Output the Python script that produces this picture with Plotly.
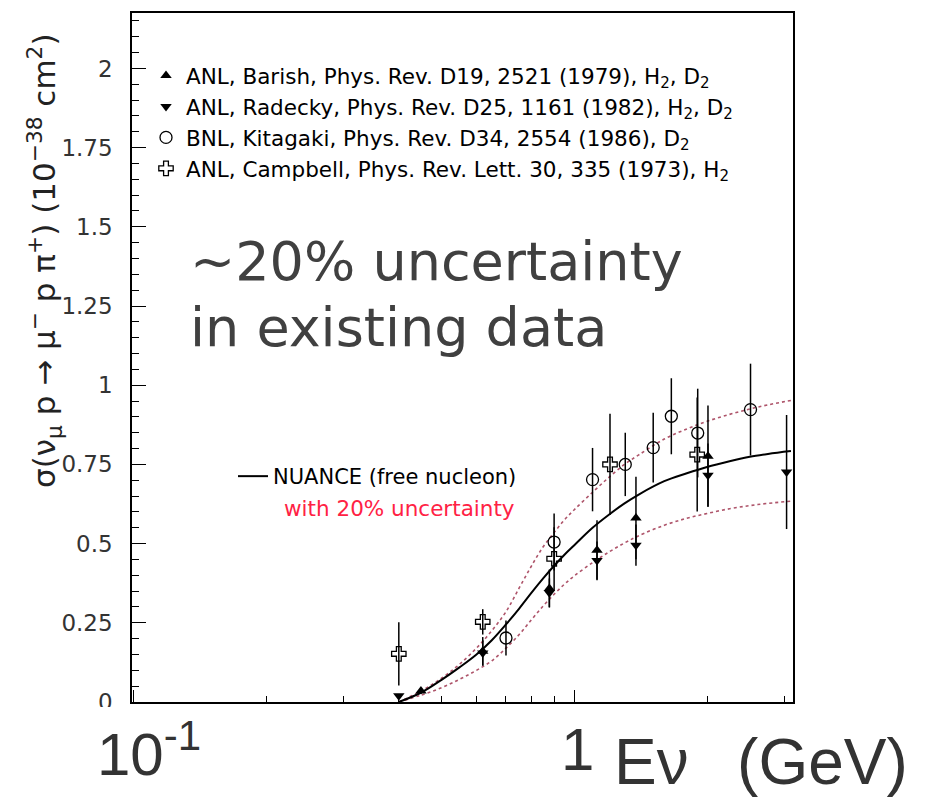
import plotly.graph_objects as go

# ---- data ----
# NUANCE (free nucleon) prediction
nuance_e = [0.40, 0.45, 0.50, 0.55, 0.60, 0.65, 0.70, 0.75, 0.80, 0.85, 0.90, 0.95, 1.0, 1.1, 1.2, 1.3, 1.4, 1.6, 1.8, 2.0, 2.25, 2.5, 2.75, 3.1]
nuance_xs = [0.0, 0.03, 0.07, 0.11, 0.15, 0.195, 0.245, 0.295, 0.345, 0.39, 0.43, 0.465, 0.495, 0.55, 0.592, 0.627, 0.655, 0.697, 0.722, 0.742, 0.76, 0.774, 0.783, 0.792]
# upper / lower curves of the 20% uncertainty band
upper_e = [0.40, 0.45, 0.50, 0.55, 0.60, 0.65, 0.70, 0.75, 0.80, 0.85, 0.90, 0.95, 1.0, 1.1, 1.2, 1.3, 1.4, 1.6, 1.8, 2.0, 2.25, 2.5, 2.75, 3.1]
upper_xs = [0.0, 0.035, 0.075, 0.12, 0.17, 0.225, 0.285, 0.36, 0.43, 0.49, 0.535, 0.575, 0.607, 0.662, 0.71, 0.75, 0.78, 0.83, 0.862, 0.886, 0.908, 0.925, 0.938, 0.952]
lower_e = [0.40, 0.45, 0.50, 0.55, 0.60, 0.65, 0.70, 0.75, 0.80, 0.85, 0.90, 0.95, 1.0, 1.1, 1.2, 1.3, 1.4, 1.6, 1.8, 2.0, 2.25, 2.5, 2.75, 3.1]
lower_xs = [0.0, 0.022, 0.045, 0.072, 0.10, 0.13, 0.17, 0.213, 0.26, 0.303, 0.34, 0.372, 0.398, 0.44, 0.474, 0.502, 0.525, 0.558, 0.58, 0.595, 0.61, 0.62, 0.627, 0.634]

# ANL, Barish (up triangles)
barish_e = [0.449, 0.62, 0.878, 1.126, 1.38, 2.01]
barish_xs = [0.035, 0.16, 0.358, 0.479, 0.581, 0.776]
barish_err = [0.01, 0.045, 0.06, 0.095, 0.13, 0.16]
# ANL, Radecky (down triangles)
radecky_e = [0.40, 0.62, 0.878, 1.126, 1.38, 2.01, 3.03]
radecky_xs = [0.02, 0.155, 0.345, 0.447, 0.495, 0.716, 0.726]
radecky_err = [0.0, 0.04, 0.045, 0.06, 0.065, 0.10, 0.18]
# BNL, Kitagaki (open circles)
kitagaki_e = [0.70, 0.90, 1.10, 1.305, 1.51, 1.66, 1.905, 2.51]
kitagaki_xs = [0.202, 0.505, 0.702, 0.75, 0.803, 0.902, 0.849, 0.923]
kitagaki_err = [0.055, 0.09, 0.10, 0.10, 0.11, 0.12, 0.14, 0.145]
# ANL, Campbell (open crosses)
campbell_e = [0.40, 0.62, 0.90, 1.205, 1.90]
campbell_xs = [0.152, 0.253, 0.452, 0.75, 0.781]
campbell_err = [0.10, 0.04, 0.10, 0.16, 0.18]

y_tickvals = [0, 0.25, 0.5, 0.75, 1, 1.25, 1.5, 1.75, 2]
y_ticktext = ["0", "0.25", "0.5", "0.75", "1", "1.25", "1.5", "1.75", "2"]

W, H = 926, 802
L, R, T, B = 132, 133, 13, 100
PW, PH = W - L - R, H - T - B

def px(xp):
    return (xp - L) / PW

def py(yp):
    return 1 - (yp - T) / PH

fig = go.Figure()

band_color = "rgba(165,65,90,0.9)"
fig.add_trace(go.Scatter(x=upper_e, y=upper_xs, mode="lines", line=dict(color=band_color, width=1.6, dash="dot", shape="spline"), showlegend=False))
fig.add_trace(go.Scatter(x=lower_e, y=lower_xs, mode="lines", line=dict(color=band_color, width=1.6, dash="dot", shape="spline"), showlegend=False))
fig.add_trace(go.Scatter(x=nuance_e, y=nuance_xs, mode="lines", line=dict(color="black", width=2, shape="spline"),
                         name="NUANCE (free nucleon)", legend="legend2"))

err_style = dict(type="data", thickness=1.5, width=0, color="black")
fig.add_trace(go.Scatter(x=barish_e, y=barish_xs, mode="markers", name="ANL, Barish, Phys. Rev. D19, 2521 (1979), H<sub>2</sub>, D<sub>2</sub>",
                         marker=dict(symbol="triangle-up", size=10, color="black"), error_y=dict(array=barish_err, **err_style)))
fig.add_trace(go.Scatter(x=radecky_e, y=radecky_xs, mode="markers", name="ANL, Radecky, Phys. Rev. D25, 1161 (1982), H<sub>2</sub>, D<sub>2</sub>",
                         marker=dict(symbol="triangle-down", size=10, color="black"), error_y=dict(array=radecky_err, **err_style)))
fig.add_trace(go.Scatter(x=kitagaki_e, y=kitagaki_xs, mode="markers", name="BNL, Kitagaki, Phys. Rev. D34, 2554 (1986), D<sub>2</sub>",
                         marker=dict(symbol="circle-open", size=12, color="black", line=dict(width=1.3)), error_y=dict(array=kitagaki_err, **err_style)))
fig.add_trace(go.Scatter(x=campbell_e, y=campbell_xs, mode="markers", name="ANL, Campbell, Phys. Rev. Lett. 30, 335 (1973), H<sub>2</sub>",
                         marker=dict(symbol="cross-open", size=12, color="black", line=dict(width=1.3)), error_y=dict(array=campbell_err, **err_style)))

fig.update_layout(
    width=W, height=H,
    margin=dict(l=L, r=R, t=T, b=B, autoexpand=False),
    paper_bgcolor="white", plot_bgcolor="white",
    font=dict(family="DejaVu Sans", color="black"),
    xaxis=dict(type="log", range=[-1.003, 0.496], showline=True, linecolor="black", linewidth=1.5, mirror=True,
               showgrid=False, zeroline=False, showticklabels=False, automargin=False,
               tickmode="array", tickvals=[0.1, 1], ticks="inside", ticklen=12, tickwidth=1.2, tickcolor="black",
               minor=dict(tickmode="array", tickvals=[0.2, 0.3, 0.4, 0.5, 0.6, 0.7, 0.8, 0.9, 2, 3], ticks="inside", ticklen=6, tickwidth=1.2, tickcolor="black")),
    yaxis=dict(range=[0, 2.175], showline=True, linecolor="black", linewidth=1.5, mirror=True,
               showgrid=False, zeroline=False, automargin=False,
               tickmode="array", tickvals=y_tickvals, ticktext=y_ticktext, ticks="inside", ticklen=14, tickwidth=1.2, tickcolor="black",
               tickfont=dict(family="DejaVu Sans", size=23, color="#333333"), ticklabelstandoff=13,
               minor=dict(dtick=0.05, tick0=0, ticks="inside", ticklen=7, tickwidth=1.2, tickcolor="black")),
    legend=dict(x=px(146), y=py(55), xanchor="left", yanchor="top", bgcolor="rgba(0,0,0,0)",
                font=dict(family="DejaVu Sans", size=21.5, color="black"), tracegroupgap=0, itemwidth=30),
    legend2=dict(x=px(233), y=py(456), xanchor="left", yanchor="top", bgcolor="rgba(0,0,0,0)",
                 font=dict(family="DejaVu Sans", size=21, color="black"), itemwidth=30),
)

# white overlay that hides the lower part of the original chart
fig.add_shape(type="rect", xref="paper", yref="paper", x0=-0.3, x1=1.3, y0=-0.2, y1=py(707),
              fillcolor="white", line=dict(width=0), layer="above")

ann = []
ann.append(dict(text="with 20% uncertainty", x=px(282), y=py(508), xanchor="left", yanchor="middle",
                font=dict(family="DejaVu Sans", size=21.5, color="#ff2244")))
ann.append(dict(text="~20% uncertainty", x=px(188), y=py(261), xanchor="left", yanchor="middle",
                font=dict(family="DejaVu Sans", size=54, color="#404040")))
ann.append(dict(text="in existing data", x=px(188), y=py(327), xanchor="left", yanchor="middle",
                font=dict(family="DejaVu Sans", size=54, color="#404040")))
ann.append(dict(text="10<sup>-1</sup>", x=px(95), y=py(750), xanchor="left", yanchor="middle",
                font=dict(family="Liberation Sans", size=60, color="#333333")))
ann.append(dict(text="1", x=px(577), y=py(750), xanchor="center", yanchor="middle",
                font=dict(family="Liberation Sans", size=60, color="#333333")))
ann.append(dict(text="Eν\u00a0\u00a0\u2009(GeV)", x=px(612), y=py(762), xanchor="left", yanchor="middle",
                font=dict(family="Liberation Sans", size=64, color="#333333")))
ann.append(dict(text="σ(ν<sub>μ</sub> p → μ<sup>−</sup> p π<sup>+</sup>) (10<sup>−38</sup> cm<sup>2</sup>)", x=px(44), y=py(261),
                xanchor="center", yanchor="middle", textangle=-90,
                font=dict(family="DejaVu Sans", size=31, color="#222222")))
for a in ann:
    a.update(xref="paper", yref="paper", showarrow=False)
fig.update_layout(annotations=ann)

fig.write_html("out.html", config={"displayModeBar": False},
               post_script="document.body.style.margin='0px';")
